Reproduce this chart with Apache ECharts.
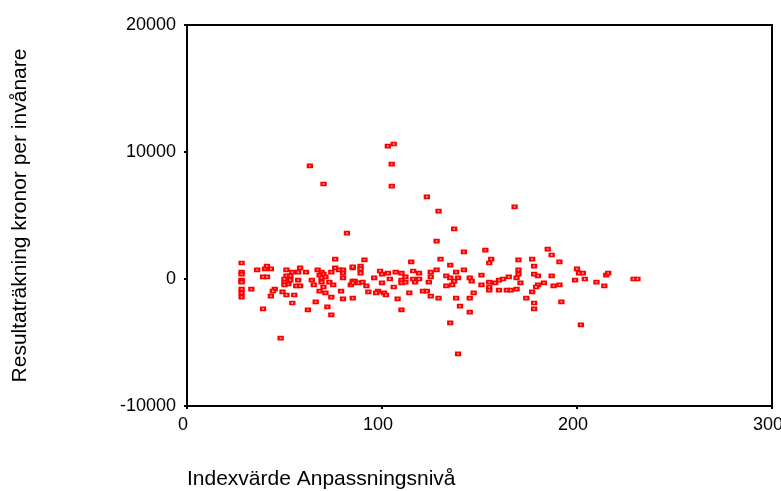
<!DOCTYPE html>
<html>
<head>
<meta charset="utf-8">
<script src="https://cdn.jsdelivr.net/npm/echarts@6/dist/echarts.min.js"></script>
<style>html,body{margin:0;padding:0;background:#fff}#c{width:781px;height:491px}</style>
</head>
<body>
<div id="c"></div>
<script>
var xTicks = [0, 100, 200, 300];
var yTicks = [-10000, 0, 10000, 20000];
var xTitle = "Indexvärde Anpassningsnivå";
var yTitle = "Resultaträkning kronor per invånare";

var indexValues = [
 28,28,28,28,28,28,28,28,28,33,36,39,41,40,41,43,43,39,48,45,44,49,51,51,50,50,51,52,53,54,54,55,56,57,57,58,58,61,62,64,65,66,67,68,69,69,68,70,71,72,74,73,74,74,75,76,76,78,79,80,80,80,85,85,85,84,80,
 91,85,89,89,89,86,85,88,90,92,93,96,99,100,100,98,97,101,102,103,104,106,107,108,110,110,110,112,112,110,114,115,116,116,117,119,119,121,123,124,125,125,125,128,130,129,133,133,135,135,136,137,138,139,138,140,135,142,142,145,146,145,147,145,139,
 153,156,155,170,177,185,187,191,178,170,170,151,178,180,187,165,169,162,160,158,155,151,155,155,160,164,166,171,169,183,180,179,191,188,177,174,178,178,192,200,201,203,199,204,210,214,215,216,202,229,231,
 63,70,82,103,106,105,105,123,129,137,128,168,
 69,70,71,50,52,53
];
var resultValues = [
 1260,550,390,-80,-160,-240,-790,-1100,-1420,-790,710,160,160,790,1020,790,-1340,-2360,-4650,-790,-950,-1020,710,240,-240,-470,-1260,-390,240,550,-1890,-1260,-550,-80,550,870,-550,550,-2440,-80,-470,-1810,710,310,80,-240,-950,-630,-1100,-2200,-2830,-240,-1420,550,-470,1570,870,710,-950,710,470,80,870,-160,-1500,-470,-1570,
 1500,950,1020,790,470,-160,-310,-310,-240,-550,-1020,80,630,390,-310,-950,-1100,-1100,-1260,470,0,-630,550,-1570,470,-80,-310,160,-240,-2440,-1100,1340,630,0,-240,470,0,-950,-950,-240,550,160,-1340,710,1570,-1500,240,-550,1100,80,-470,-160,550,80,-1500,-2130,-3460,2130,710,80,-160,-1500,-1100,-2600,-5900,
 2280,1570,1260,1500,1570,2360,1890,1340,1020,710,390,310,390,240,240,160,80,0,-80,-310,-240,-470,-630,-870,-870,-870,-870,-310,-790,-310,-470,-630,-470,-550,-1020,-1500,-1890,-2360,-1810,790,470,470,-80,0,-240,-550,310,470,-3620,0,0,
 8900,7480,3620,10470,10630,9050,7320,6460,5350,3940,2990,5670,
 550,390,160,0,-160,-80
];

var pts = indexValues.map(function (x, i) { return [x, resultValues[i]]; });

var chart = echarts.init(document.getElementById('c'), null, {renderer: 'canvas'});
var font = 'Liberation Sans, Arial, sans-serif';
chart.setOption({
  animation: false,
  backgroundColor: '#fff',
  grid: {left: 187, right: 9, top: 25, bottom: 85, outerBoundsMode: 'none', containLabel: false,
         show: true, borderColor: '#000', borderWidth: 2, backgroundColor: 'transparent'},
  xAxis: {
    type: 'value', min: xTicks[0], max: xTicks[xTicks.length - 1], interval: 100,
    splitLine: {show: false},
    axisLine: {show: true, onZero: false, lineStyle: {color: '#000', width: 2}},
    axisTick: {show: true, length: 3, lineStyle: {color: '#000', width: 2}},
    axisLabel: {color: '#000', fontSize: 18, fontFamily: font, margin: 10, padding: [0, 8, 0, 0],
      formatter: function (v) { return xTicks.indexOf(v) >= 0 ? String(v) : ''; }}
  },
  yAxis: {
    type: 'value', min: yTicks[0], max: yTicks[yTicks.length - 1], interval: 10000,
    splitLine: {show: false},
    axisLine: {show: true, onZero: false, lineStyle: {color: '#000', width: 2}},
    axisTick: {show: true, length: 3, lineStyle: {color: '#000', width: 2}},
    axisLabel: {color: '#000', fontSize: 18, fontFamily: font, margin: 11,
      formatter: function (v) { return String(v); }},
    name: yTitle, nameLocation: 'middle', nameGap: 156, nameRotate: 90,
    nameTextStyle: {color: '#000', fontSize: 21, fontFamily: font}
  },
  graphic: [{
    type: 'text', left: 187, top: 469,
    style: {text: xTitle, fill: '#000', font: '21px Liberation Sans, Arial, sans-serif'}
  }],
  series: [{
    type: 'scatter',
    data: pts,
    symbol: 'rect',
    symbolSize: [4, 3],
    itemStyle: {color: '#ffd0d0', borderColor: '#ff0000', borderWidth: 2, opacity: 1}
  }]
});
</script>
</body>
</html>
